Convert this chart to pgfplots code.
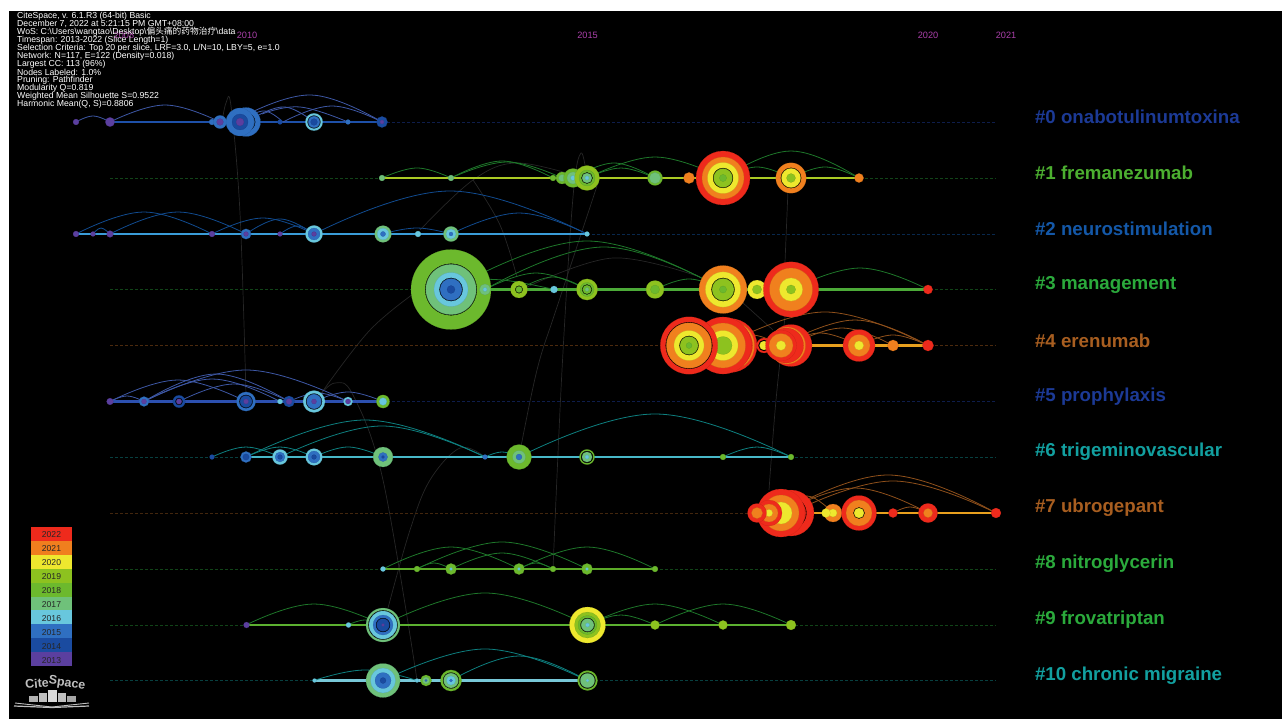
\documentclass[border=0pt]{standalone}
\usepackage{fontspec}
\usepackage{pgfplots}
\usepackage{pgfplotstable}
\pgfplotsset{compat=1.18}
\setmainfont{Liberation Sans}
\newfontfamily\cjk{Noto Sans CJK SC}

% time-slice colours
\definecolor{c22}{HTML}{EE2A1C}
\definecolor{c21}{HTML}{F07F1E}
\definecolor{c20}{HTML}{EEE82E}
\definecolor{c19}{HTML}{8DC21F}
\definecolor{c18}{HTML}{6CB92D}
\definecolor{c17}{HTML}{6FC17A}
\definecolor{c16}{HTML}{68C7DD}
\definecolor{c15}{HTML}{2F6FC1}
\definecolor{c14}{HTML}{1A4BA0}
\definecolor{c13}{HTML}{5B3F9F}
% cluster colours
\definecolor{tblue}{HTML}{1C3A96}
\definecolor{tgreen}{HTML}{2BAA3C}
\definecolor{tlime}{HTML}{4CAF30}
\definecolor{tmid}{HTML}{1458A8}
\definecolor{tbrown}{HTML}{A85E20}
\definecolor{tteal}{HTML}{12A0A0}
\definecolor{link}{HTML}{262626}

% x y radius slice (13..22 = 2013..2022, 12 = thin black ring), drawn in this order
\pgfplotstableread{
x y r c
76 122 3 13
110 122 4.7 13
212 122 3 15
220 122 6.6 15
220 122 3.4 13
246 122 14.5 15
246 122 9.2 12
246 122 8.6 15
240 122 14 15
240 122 8 14
240 122 4 13
280 122 2.5 14
314 122 8.7 16
314 122 6.4 12
314 122 5.8 15
314 122 3.4 14
348 122 2.5 15
382 122 5.6 14
382 122 2 13
382 178 3 17
451 178 3 17
553 178 3 18
562 178 6 18
562 178 3.5 17
573 178 9.5 18
573 178 6 17
573 178 2.5 16
587 178 12.5 19
587 178 8 18
587 178 5.6 12
587 178 5 17
587 178 2 16
655 178 7.5 18
655 178 5.6 17
689 178 5.6 21
723 178 27 22
723 178 21 21
723 178 15.5 20
723 178 10 12
723 178 9.4 19
723 178 3.6 18
791 178 15.2 21
791 178 10.2 12
791 178 9.6 20
791 178 4.5 19
859 178 4.6 21
76 234 3 13
93 234 2.5 13
110 234 3.4 13
212 234 3 13
246 234 5.2 15
246 234 2.4 13
280 234 2.5 13
314 234 8.6 16
314 234 6 15
314 234 2.4 13
383 234 8.4 17
383 234 5.8 16
383 234 2.6 15
418 234 3 16
451 234 7.6 17
451 234 5 16
451 234 2 15
587 234 2.5 16
451 289.5 40 18
451 289.5 25.8 12
451 289.5 25.2 17
451 289.5 17 16
451 289.5 11.6 12
451 289.5 11 15
451 289.5 4 14
485 289.5 5.6 17
485 289.5 2 16
519 289.5 8.5 19
519 289.5 3.8 12
519 289.5 3.2 18
554 289.5 3.6 16
587 289.5 10.6 19
587 289.5 7 18
587 289.5 5 12
587 289.5 4.4 18
587 289.5 2 17
655 289.5 9 19
655 289.5 4.5 18
723 289.5 24 21
723 289.5 17.6 20
723 289.5 11.6 12
723 289.5 11 19
723 289.5 3.6 18
757 289.5 9.4 20
757 289.5 4.6 19
791 289.5 27.7 22
791 289.5 21.5 21
791 289.5 11.6 20
791 289.5 4.6 19
928 289.5 4.6 22
730 345.5 27 22
730 345.5 24.5 21
730 345.5 22.5 22
723 345.5 28.5 22
723 345.5 22.5 21
723 345.5 15 20
723 345.5 9 19
689 345.5 28.7 22
689 345.5 23.3 12
689 345.5 22.7 21
689 345.5 15 20
689 345.5 9.6 12
689 345.5 9 19
689 345.5 3 18
764 345.5 7.5 22
764 345.5 5.6 12
764 345.5 4.5 20
791 345.5 21 22
787 345.5 18.5 21
786 345.5 17.5 22
781 345.5 15.5 22
781 345.5 12 21
781 345.5 4.8 20
859 345.5 16 22
859 345.5 11 21
859 345.5 4.6 20
893 345.5 5.6 21
928 345.5 5.6 22
110 401.5 3.4 13
144 401.5 5 15
144 401.5 2.5 13
179 401.5 6.2 14
179 401.5 3.6 12
179 401.5 2.8 13
246 401.5 9.6 15
246 401.5 6.6 12
246 401.5 6 14
246 401.5 2.5 13
280 401.5 2.6 16
289 401.5 5.6 14
289 401.5 3 13
314 401.5 11 16
314 401.5 8 12
314 401.5 7.4 15
314 401.5 2.5 13
348 401.5 4.6 16
348 401.5 2.6 13
383 401.5 6.6 18
383 401.5 3.8 16
212 457 2.5 14
246 457 5.6 15
246 457 3.2 14
280 457 7.6 16
280 457 5 15
280 457 2.4 14
314 457 8.4 16
314 457 6 15
314 457 2.4 14
383 457 10 17
383 457 4.6 15
383 457 1.6 14
485 457 2.5 15
519 457 12.5 18
519 457 6.5 17
519 457 3 15
587 457 7.6 18
587 457 6 12
587 457 5.2 17
587 457 2 16
723 457 3 18
791 457 3 18
791 513 23 22
791 513 15.4 12
791 513 14.8 22
781 513 24 22
781 513 18 21
781 513 11 20
769 513 13 22
769 513 9 21
769 513 3.6 20
757 513 9.5 22
757 513 5.6 21
833 513 9 21
833 513 4 20
826 513 4.5 20
859 513 17.5 22
859 513 13 21
859 513 5.6 12
859 513 5 20
893 513 4.6 22
928 513 9.6 22
928 513 4.6 21
996 513 5 22
383 569 2.6 16
417 569 3 18
451 569 5.6 18
451 569 1.6 16
519 569 5.6 18
519 569 1.6 16
553 569 3 18
587 569 5.6 18
587 569 1.6 16
655 569 3 18
246.5 625 3 13
348.5 625 2.6 16
383 625 17 17
383 625 14.6 12
383 625 14 16
383 625 10 15
383 625 7 12
383 625 6.4 14
383 625 1.6 13
587.5 625 18 20
587.5 625 13 19
587.5 625 9.5 18
587.5 625 7 12
587.5 625 6.4 17
587.5 625 2 16
655 625 4.6 19
723 625 4.6 19
791 625 5 19
314.5 680.5 2 16
383 680.5 17 17
383 680.5 12.5 16
383 680.5 8 15
383 680.5 3 14
417 680.5 2 16
426 680.5 5.6 18
426 680.5 3.5 17
426 680.5 1.2 15
451 680.5 10.6 18
451 680.5 8 12
451 680.5 7.4 17
451 680.5 4.6 16
451 680.5 1.6 15
587.5 680.5 10 18
587.5 680.5 8 12
587.5 680.5 7.2 17
587.5 680.5 1.6 16
}\rings

\pgfplotsset{
  colormap={slices}{
    rgb255(12)=(0,0,0)
    rgb255(13)=(91,63,159)
    rgb255(14)=(26,75,160)
    rgb255(15)=(47,111,193)
    rgb255(16)=(104,199,221)
    rgb255(17)=(111,193,122)
    rgb255(18)=(108,185,45)
    rgb255(19)=(141,194,31)
    rgb255(20)=(238,232,46)
    rgb255(21)=(240,127,30)
    rgb255(22)=(238,42,28)
  },
  a0/.style={smooth,tension=0.7,line width=0.8pt,color=tblue!85!white},
  a1/.style={smooth,tension=0.7,line width=0.8pt,color=tgreen!70!black},
  a2/.style={smooth,tension=0.7,line width=0.8pt,color=tmid!85!black},
  a4/.style={smooth,tension=0.7,line width=0.8pt,color=tbrown!85!black},
  a6/.style={smooth,tension=0.7,line width=0.8pt,color=tteal!80!black},
  gl/.style={smooth,tension=0.6,line width=0.7pt,color=link},
  ds/.style={densely dashed,line width=0.7pt},
  ml/.style={line width=2.6pt},
}
\tikzset{
  lab/.style={anchor=west,font=\fontsize{18.7}{19}\selectfont\bfseries},
  yr/.style={text={rgb,255:red,170;green,64;blue,170},font=\fontsize{9.2}{9.2}\selectfont},
  info/.style={anchor=west,text=white,inner sep=0pt,font=\fontsize{8.7}{8.7}\selectfont},
  key/.style={text=black!85,font=\fontsize{8.6}{9}\selectfont},
}

\begin{document}
\begin{tikzpicture}
\useasboundingbox (0,0) rectangle (1282pt,719pt);
\begin{axis}[
  at={(0,0)},anchor=south west,
  width=1282pt,height=719pt,scale only axis,
  xmin=0,xmax=1282,ymin=0,ymax=719,
  y dir=reverse,
  hide axis,
  point meta min=12,point meta max=22,
]
% panel
\addplot[fill=black,draw=none] coordinates {(9,11)(1282,11)(1282,719)(9,719)} -- cycle;

% links between clusters
\addplot[gl] coordinates {(222,122)(226,103)(231,106)(240,213)(246,395)};
\addplot[gl] coordinates {(788,190)(785,262)};
\addplot[gl] coordinates {(785,317)(776,400)(769,490)};
\addplot[gl] coordinates {(320,395)(335,383)(353,395)(383,480)(417,680)};
\addplot[gl] coordinates {(320,395)(370,330)(420,289)};
\addplot[gl] coordinates {(388,608)(410,530)(430,480)(460,448)(485,457)};
\addplot[gl] coordinates {(553,569)(562,370)(573,197)(581,153)(587,178)};
\addplot[gl] coordinates {(519,457)(537,370)(557,307)(600,177)};
\addplot[gl] coordinates {(420,230)(473,180)(517,163)(580,177)};
\addplot[gl] coordinates {(473,180)(500,225)(517,277)};
\addplot[gl] coordinates {(527,287)(613,258)(700,277)};
\addplot[gl] coordinates {(743,303)(773,330)};

% slice lines, dashed
\addplot[ds,color=tblue!50!black] coordinates {(382,122)(996,122)};
\addplot[ds,color=tgreen!40!black] coordinates {(110,178)(996,178)};
\addplot[ds,color=tmid!45!black] coordinates {(587,234)(996,234)};
\addplot[ds,color=tgreen!40!black] coordinates {(110,289.5)(996,289.5)};
\addplot[ds,color=tbrown!45!black] coordinates {(110,345.5)(996,345.5)};
\addplot[ds,color=tblue!50!black] coordinates {(382,401.5)(996,401.5)};
\addplot[ds,color=tteal!40!black] coordinates {(110,457)(996,457)};
\addplot[ds,color=tbrown!40!black] coordinates {(110,513)(757,513)};
\addplot[ds,color=tgreen!40!black] coordinates {(110,569)(996,569)};
\addplot[ds,color=tgreen!40!black] coordinates {(110,625)(996,625)};
\addplot[ds,color=tteal!40!black] coordinates {(110,680.5)(996,680.5)};

% cluster lines
\addplot[ml,color={rgb,255:red,30;green,80;blue,168}] coordinates {(110,122)(382,122)};
\addplot[ml,color={rgb,255:red,170;green,202;blue,36}] coordinates {(382,178)(859,178)};
\addplot[ml,color={rgb,255:red,58;green,156;blue,216}] coordinates {(76,234)(587,234)};
\addplot[ml,color={rgb,255:red,76;green,170;blue,56}] coordinates {(451,289.5)(928,289.5)};
\addplot[ml,color={rgb,255:red,232;green,160;blue,30}] coordinates {(689,345.5)(928,345.5)};
\addplot[ml,color={rgb,255:red,44;green,80;blue,176}] coordinates {(110,401.5)(382,401.5)};
\addplot[ml,color={rgb,255:red,72;green,184;blue,200}] coordinates {(246,457)(791,457)};
\addplot[ml,color={rgb,255:red,232;green,160;blue,30}] coordinates {(757,513)(996,513)};
\addplot[ml,color={rgb,255:red,92;green,170;blue,40}] coordinates {(383,569)(655,569)};
\addplot[ml,color={rgb,255:red,92;green,176;blue,48}] coordinates {(246,625)(791,625)};
\addplot[ml,color={rgb,255:red,120;green,200;blue,216}] coordinates {(314,680.5)(587,680.5)};

% arcs, cluster 0
\addplot[a0] coordinates {(76,122)(93,116)(110,122)};
\addplot[a0] coordinates {(110,122)(165,105)(220,122)};
\addplot[a0] coordinates {(240,118)(311,95)(382,122)};
\addplot[a0] coordinates {(246,118)(265,111)(283,122)};
\addplot[a0] coordinates {(255,117)(285,107)(314,122)};
\addplot[a0] coordinates {(283,122)(332,106)(382,122)};
\addplot[a0] coordinates {(262,114)(300,107)(348,122)};
% cluster 1
\addplot[a1] coordinates {(382,178)(417,168)(451,178)};
\addplot[a1] coordinates {(451,178)(502,161)(553,178)};
\addplot[a1] coordinates {(451,178)(507,162)(562,178)};
\addplot[a1] coordinates {(587,178)(621,168)(655,178)};
\addplot[a1] coordinates {(573,178)(614,163)(655,178)};
\addplot[a1] coordinates {(587,178)(655,157)(723,178)};
\addplot[a1] coordinates {(723,178)(791,151)(859,178)};
\addplot[a1] coordinates {(723,178)(757,167)(791,178)};
\addplot[a1] coordinates {(791,178)(825,167)(859,178)};
% cluster 2
\addplot[a2] coordinates {(76,234)(144,212)(212,234)};
\addplot[a2] coordinates {(110,234)(178,212)(246,234)};
\addplot[a2] coordinates {(93,234)(101,228)(110,234)};
\addplot[a2] coordinates {(212,234)(263,218)(314,234)};
\addplot[a2] coordinates {(246,234)(280,219)(314,234)};
\addplot[a2] coordinates {(280,234)(297,226)(314,234)};
\addplot[a2] coordinates {(314,234)(450,191)(587,234)};
\addplot[a2] coordinates {(382,234)(417,228)(451,234)};
\addplot[a2] coordinates {(451,234)(519,213)(587,234)};
% cluster 3
\addplot[a1] coordinates {(451,289.5)(587,241)(723,289.5)};
\addplot[a1] coordinates {(485,289.5)(604,247)(723,289.5)};
\addplot[a1] coordinates {(485,289.5)(536,273)(587,289.5)};
\addplot[a1] coordinates {(451,280)(502,280)(554,289.5)};
\addplot[a1] coordinates {(519,289.5)(553,277)(587,289.5)};
\addplot[a1] coordinates {(655,289.5)(689,279)(723,289.5)};
\addplot[a1] coordinates {(791,289.5)(860,268)(928,289.5)};
% cluster 4
\addplot[a4] coordinates {(723,345.5)(825,312)(928,345.5)};
\addplot[a4] coordinates {(781,345.5)(855,320)(928,345.5)};
\addplot[a4] coordinates {(790,345.5)(842,328)(893,345.5)};
\addplot[a4] coordinates {(781,345.5)(820,333)(859,345.5)};
\addplot[a4] coordinates {(859,345.5)(893,335)(928,345.5)};
\addplot[a4] coordinates {(723,345.5)(752,335)(781,345.5)};
% cluster 5
\addplot[a0] coordinates {(110,401.5)(127,396)(144,401.5)};
\addplot[a0] coordinates {(110,401.5)(178,380)(246,401.5)};
\addplot[a0] coordinates {(144,401.5)(212,379)(280,401.5)};
\addplot[a0] coordinates {(144,401.5)(246,370)(348,401.5)};
\addplot[a0] coordinates {(144,401.5)(216,374)(289,401.5)};
\addplot[a0] coordinates {(179,401.5)(234,384)(289,401.5)};
\addplot[a0] coordinates {(289,401.5)(318,393)(348,401.5)};
\addplot[a0] coordinates {(314,401.5)(348,392)(383,401.5)};
% cluster 6
\addplot[a6] coordinates {(212,457)(246,447)(280,457)};
\addplot[a6] coordinates {(246,457)(365,420)(485,457)};
\addplot[a6] coordinates {(280,457)(382,426)(485,457)};
\addplot[a6] coordinates {(246,457)(280,447)(314,457)};
\addplot[a6] coordinates {(314,457)(348,447)(383,457)};
\addplot[a6] coordinates {(485,457)(502,452)(519,457)};
\addplot[a6] coordinates {(519,457)(655,414)(791,457)};
\addplot[a6] coordinates {(723,457)(757,447)(791,457)};
% cluster 7
\addplot[a4] coordinates {(781,513)(888,475)(996,513)};
\addplot[a4] coordinates {(791,513)(893,481)(996,513)};
\addplot[a4] coordinates {(781,513)(855,488)(928,513)};
\addplot[a4] coordinates {(781,513)(807,496)(833,513)};
\addplot[a4] coordinates {(893,513)(910,507)(928,513)};
% cluster 8
\addplot[a1] coordinates {(383,569)(451,547)(519,569)};
\addplot[a1] coordinates {(417,569)(502,542)(587,569)};
\addplot[a1] coordinates {(417,569)(434,563)(451,569)};
\addplot[a1] coordinates {(451,569)(502,553)(553,569)};
\addplot[a1] coordinates {(519,569)(587,547)(655,569)};
\addplot[a1] coordinates {(519,569)(536,563)(553,569)};
% cluster 9
\addplot[a1] coordinates {(246,625)(314,604)(383,625)};
\addplot[a1] coordinates {(348,625)(365,620)(383,625)};
\addplot[a1] coordinates {(383,625)(485,593)(587,625)};
\addplot[a1] coordinates {(587,625)(655,604)(723,625)};
\addplot[a1] coordinates {(587,625)(621,615)(655,625)};
\addplot[a1] coordinates {(655,625)(723,604)(791,625)};
% cluster 10
\addplot[a6] coordinates {(314,680.5)(365,670)(417,680.5)};
\addplot[a6] coordinates {(383,680.5)(485,649)(587,680.5)};
\addplot[a6] coordinates {(451,680.5)(519,656)(587,680.5)};

% nodes as tree rings
\addplot[scatter,only marks,mark=*,
  mark options={line width=0.1pt},
  point meta=explicit,
  visualization depends on={\thisrow{r} \as \perpointmarksize},
  scatter/@pre marker code/.append style={/tikz/mark size=\perpointmarksize},
] table[x=x,y=y,meta=c] {\rings};

% legend bars
\addplot[fill=c22,draw=none] coordinates {(31,527)(72,527)(72,541)(31,541)} -- cycle;
\addplot[fill=c21,draw=none] coordinates {(31,541)(72,541)(72,555)(31,555)} -- cycle;
\addplot[fill=c20,draw=none] coordinates {(31,555)(72,555)(72,569)(31,569)} -- cycle;
\addplot[fill=c19,draw=none] coordinates {(31,569)(72,569)(72,583)(31,583)} -- cycle;
\addplot[fill=c18,draw=none] coordinates {(31,583)(72,583)(72,597)(31,597)} -- cycle;
\addplot[fill=c17,draw=none] coordinates {(31,597)(72,597)(72,610)(31,610)} -- cycle;
\addplot[fill=c16,draw=none] coordinates {(31,610)(72,610)(72,624)(31,624)} -- cycle;
\addplot[fill=c15,draw=none] coordinates {(31,624)(72,624)(72,638)(31,638)} -- cycle;
\addplot[fill=c14,draw=none] coordinates {(31,638)(72,638)(72,652)(31,652)} -- cycle;
\addplot[fill=c13,draw=none] coordinates {(31,652)(72,652)(72,666)(31,666)} -- cycle;
\node[key] at (51.5,535) {2022};
\node[key] at (51.5,549) {2021};
\node[key] at (51.5,563) {2020};
\node[key] at (51.5,577) {2019};
\node[key] at (51.5,591) {2018};
\node[key] at (51.5,605) {2017};
\node[key] at (51.5,619) {2016};
\node[key] at (51.5,633) {2015};
\node[key] at (51.5,647) {2014};
\node[key] at (51.5,661) {2013};

% logo
\node[text=black!25,font=\fontsize{12.5}{13}\selectfont\bfseries,rotate=5] at (37,683.5) {Cite};
\node[text=black!25,font=\fontsize{12.5}{13}\selectfont\bfseries,rotate=-8] at (67,683.5) {Space};
\addplot[fill=black!30,draw=none] coordinates {(29,702)(38,702)(38,696)(29,696)} -- cycle;
\addplot[fill=black!25,draw=none] coordinates {(39,702)(47,702)(47,693)(39,693)} -- cycle;
\addplot[fill=black!15,draw=none] coordinates {(48,702)(57,702)(57,690)(48,690)} -- cycle;
\addplot[fill=black!25,draw=none] coordinates {(58,702)(66,702)(66,693)(58,693)} -- cycle;
\addplot[fill=black!35,draw=none] coordinates {(67,702)(76,702)(76,696)(67,696)} -- cycle;
\addplot[color=black!25,line width=0.9pt] coordinates {(15,703)(52,707)(89,703)};
\addplot[color=black!25,line width=1.2pt] coordinates {(14,706)(52,707.5)(89,706)};

% time line
\node[yr] at (124,35) {2008};
\node[yr] at (247,35) {2010};
\node[yr] at (587.5,35) {2015};
\node[yr] at (928,35) {2020};
\node[yr] at (1006,35) {2021};

% run information
\node[info] at (17,16) {CiteSpace, v. 6.1.R3 (64-bit) Basic};
\node[info] at (17,24) {December 7, 2022 at 5:21:15 PM GMT+08:00};
\node[info] at (17,32) {WoS: C:\textbackslash Users\textbackslash wangtao\textbackslash Desktop\textbackslash {\cjk 偏头痛的药物治疗}\textbackslash data};
\node[info] at (17,40) {Timespan: 2013-2022 (Slice Length=1)};
\node[info] at (17,48) {Selection Criteria: Top 20 per slice, LRF=3.0, L/N=10, LBY=5, e=1.0};
\node[info] at (17,56) {Network: N=117, E=122 (Density=0.018)};
\node[info] at (17,64) {Largest CC: 113 (96\%)};
\node[info] at (17,72) {Nodes Labeled: 1.0\%};
\node[info] at (17,80) {Pruning: Pathfinder};
\node[info] at (17,88) {Modularity Q=0.819};
\node[info] at (17,96) {Weighted Mean Silhouette S=0.9522};
\node[info] at (17,104) {Harmonic Mean(Q, S)=0.8806};

% cluster labels
\node[lab,text=tblue] at (1031.5,116.5) {\#0 onabotulinumtoxina};
\node[lab,text=tlime] at (1031.5,172.5) {\#1 fremanezumab};
\node[lab,text=tmid] at (1031.5,228.5) {\#2 neurostimulation};
\node[lab,text=tgreen] at (1031.5,284.5) {\#3 management};
\node[lab,text=tbrown] at (1031.5,340.5) {\#4 erenumab};
\node[lab,text=tblue] at (1031.5,396.5) {\#5 prophylaxis};
\node[lab,text=tteal] at (1031.5,452) {\#6 trigeminovascular};
\node[lab,text=tbrown] at (1031.5,508) {\#7 ubrogepant};
\node[lab,text=tgreen] at (1031.5,564) {\#8 nitroglycerin};
\node[lab,text=tgreen] at (1031.5,620) {\#9 frovatriptan};
\node[lab,text=tteal] at (1031.5,675.5) {\#10 chronic migraine};
\end{axis}
\end{tikzpicture}
\end{document}
